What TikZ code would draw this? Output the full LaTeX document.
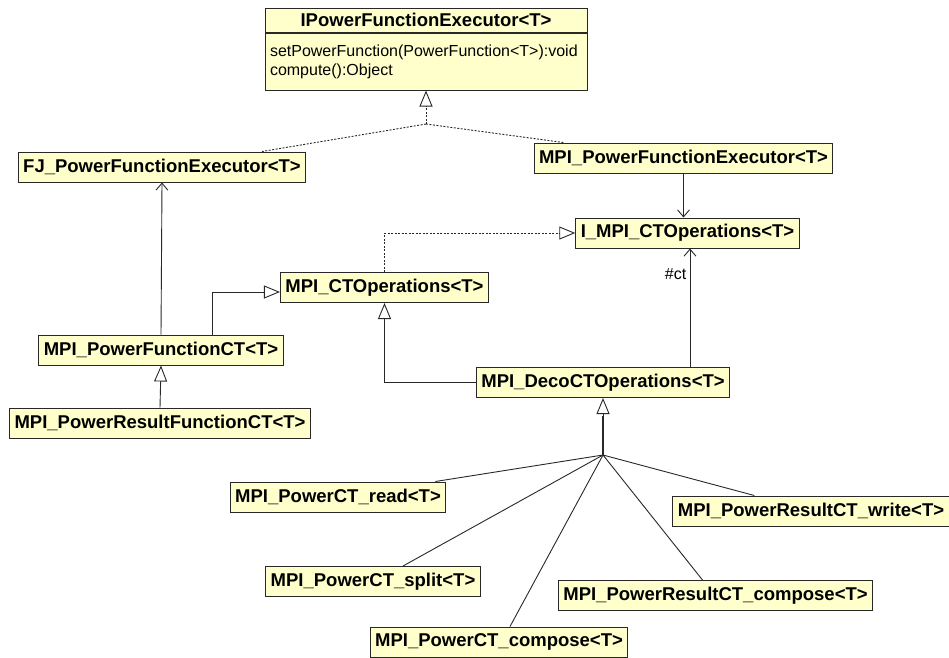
\documentclass[tikz,border=0pt]{standalone}
\usepackage{fontspec}
\setmainfont{Liberation Sans}
\usetikzlibrary{positioning,arrows.meta,calc}
\definecolor{umlfill}{RGB}{255,255,204}
\definecolor{umlline}{RGB}{40,40,40}

\begin{document}
\begin{tikzpicture}[x=1pt,y=-1pt,
  cls/.style={draw=umlline,fill=umlfill,line width=1pt,minimum height=30pt,inner xsep=5pt,inner ysep=2pt,font=\bfseries\fontsize{18.5}{20}\selectfont},
  ops/.style={draw=umlline,fill=umlfill,line width=1pt,text width=312pt,minimum height=57pt,inner xsep=5pt,align=left,font=\fontsize{16}{19}\selectfont},
  ln/.style={line width=0.9pt,draw=umlline},
  dots/.style={ln,dash pattern=on 2pt off 1.5pt},
  tri/.style={-{Triangle[open,length=16pt,width=13pt]}},
  bar/.style={-{Straight Barb[length=7pt,width=12pt]}}]
\clip (0,0) rectangle (949,657);
\fill[white] (0,0) rectangle (949,657);
% interface on top
\node[cls,minimum width=322pt,minimum height=24pt] (ipfe) at (426,20) {IPowerFunctionExecutor<T>};
\node[ops,below=0pt of ipfe] (ipfeops) {setPowerFunction(PowerFunction<T>):void\\compute():Object};
% classes
\node[cls] (fj) at (162,167) {FJ\_PowerFunctionExecutor<T>};
\node[cls] (mpfe) at (683.5,158) {MPI\_PowerFunctionExecutor<T>};
\node[cls] (impi) at (687.5,233) {I\_MPI\_CTOperations<T>};
\node[cls] (ctops) at (384.5,287.5) {MPI\_CTOperations<T>};
\node[cls] (pfct) at (161,350) {MPI\_PowerFunctionCT<T>};
\node[cls] (prfct) at (160,423) {MPI\_PowerResultFunctionCT<T>};
\node[cls] (deco) at (603,382.5) {MPI\_DecoCTOperations<T>};
\node[cls] (read) at (338,497) {MPI\_PowerCT\_read<T>};
\node[cls] (write) at (811,511) {MPI\_PowerResultCT\_write<T>};
\node[cls] (split) at (373,581.5) {MPI\_PowerCT\_split<T>};
\node[cls] (rctc) at (715.5,595.5) {MPI\_PowerResultCT\_compose<T>};
\node[cls] (pctc) at (499,642) {MPI\_PowerCT\_compose<T>};
% realizations of the executor interface
\coordinate (rhub) at (426,124);
\draw[dots,tri] (rhub) -- (ipfeops.south);
\draw[dots] (rhub) -- ([xshift=100pt]fj.north);
\draw[dots] (rhub) -- ([xshift=-120pt]mpfe.north);
% associations and generalizations
\draw[ln,bar] (pfct.north) -- (fj.south);
\draw[ln,tri] ([xshift=51pt]pfct.north) |- ([yshift=-4.5pt]ctops.west);
\draw[ln,tri] (prfct.north) -- (pfct.south);
\draw[dots,tri] (ctops.north) |- (impi.west);
\draw[ln,bar] (mpfe.south) -- (mpfe.south |- impi.north);
\draw[ln,bar] ([xshift=87pt]deco.north) -- ([xshift=87pt]deco.north |- impi.south)
  node[pos=0.78,left,font=\fontsize{16}{18}\selectfont] {\#ct};
\draw[ln,tri] (deco.west) -| (ctops.south);
% subclasses of the decorator
\coordinate (ghub) at (603,455);
\draw[ln,line width=2.5pt] (ghub) -- ([yshift=-18pt]deco.south);
\draw[ln,tri] (ghub) -- (deco.south);
\draw[ln] (ghub) -- ([xshift=-11pt]read.north east);
\draw[ln] (ghub) -- ([xshift=30pt]split.north);
\draw[ln] (ghub) -- ([xshift=11pt]pctc.north);
\draw[ln] (ghub) -- ([xshift=-13pt]rctc.north);
\draw[ln] (ghub) -- ([xshift=82pt]write.north west);
\end{tikzpicture}
\end{document}
